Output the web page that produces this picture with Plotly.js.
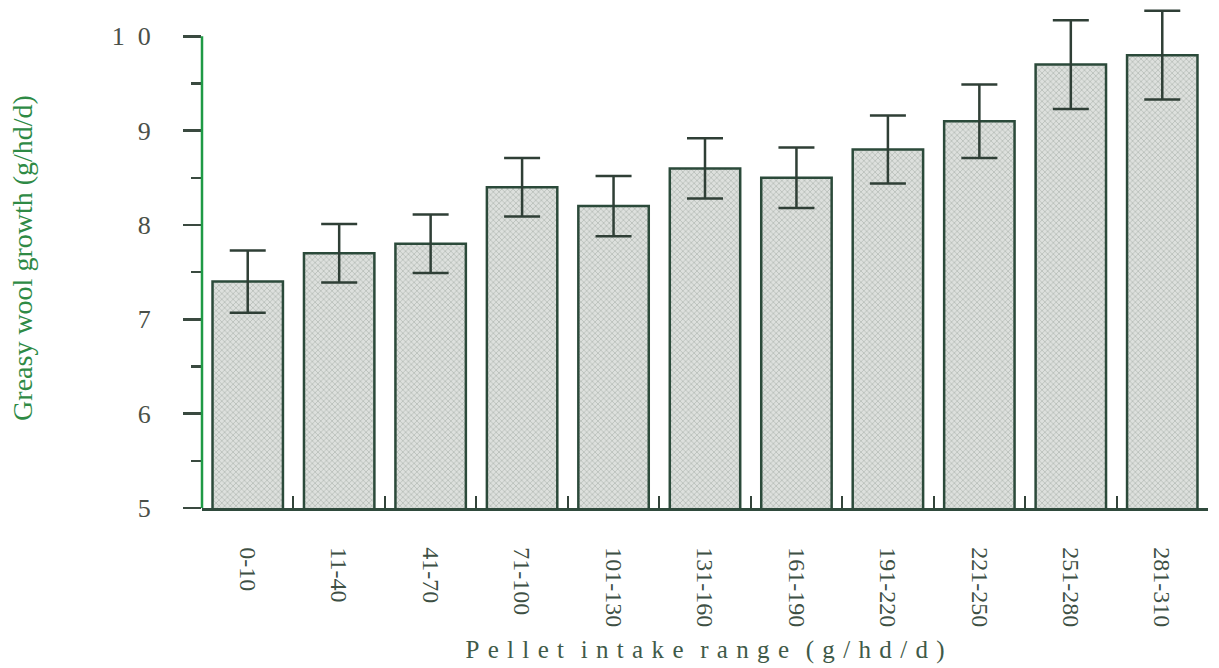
<!DOCTYPE html>
<html><head><meta charset="utf-8">
<script src="https://cdn.plot.ly/plotly-3.0.1.min.js"></script>
<style>body{margin:0;background:#fff}#c{width:1219px;height:668px}</style>
</head><body><div id="c"></div>
<script>
var categories = ['0-10','11-40','41-70','71-100','101-130','131-160','161-190','191-220','221-250','251-280','281-310'];
var woolGrowth = [7.4, 7.7, 7.8, 8.4, 8.2, 8.6, 8.5, 8.8, 9.1, 9.7, 9.8];
var errorSE = [0.33, 0.31, 0.31, 0.31, 0.32, 0.32, 0.32, 0.36, 0.39, 0.47, 0.47];
var yTickVals = [5, 6, 7, 8, 9, 10];
var yTickText = ['5', '6', '7', '8', '9', '1\u20020'];
var xTitle = 'Pellet intake range (g/hd/d)';

function spaced(s) {
  var g = '\u00a0\u200a';
  return s.split(' ').map(function (w) { return w.split('').join(g); }).join(g + g);
}

var serif = '"Liberation Serif", "DejaVu Serif", serif';
var trace = {
  type: 'bar', x: categories, y: woolGrowth, base: 0,
  width: 0.77,
  marker: {
    color: '#d9dcd9',
    line: {color: '#2b4a3a', width: 2.5},
    pattern: {shape: 'x', size: 4, solidity: 0.25, fgcolor: '#a3aaa4', bgcolor: '#dde0dd'}
  },
  error_y: {type: 'data', array: errorSE, visible: true, color: '#2f3f36', thickness: 2.5, width: 18}
};
var layout = {
  width: 1219, height: 668,
  margin: {l: 202, r: 11, t: 8, b: 160},
  paper_bgcolor: '#fff', plot_bgcolor: '#fff',
  showlegend: false,
  shapes: [{
    type: 'line', xref: 'paper', yref: 'y', layer: 'above',
    x0: 0, x1: 0, y0: yTickVals[0], y1: yTickVals[yTickVals.length - 1],
    line: {color: '#1f9a45', width: 2.5}
  }],
  xaxis: {
    type: 'category', range: [-0.5, 10.5],
    showline: true, linecolor: '#2f4a3c', linewidth: 2.5,
    ticks: 'inside', tickson: 'boundaries', ticklen: 12, tickwidth: 2, tickcolor: '#33443a',
    tickangle: 90, ticklabelstandoff: 32,
    tickfont: {family: serif, size: 24, color: '#3d4f44'},
    showgrid: false, zeroline: false,
    title: {text: spaced(xTitle), font: {family: serif, size: 25, color: '#3f5a48'}, standoff: 14}
  },
  yaxis: {
    range: [5, 10.3], tickvals: yTickVals, ticktext: yTickText,
    showline: false,
    ticks: 'outside', ticklen: 18, tickwidth: 2.5, tickcolor: '#3a4a40',
    minor: {dtick: 0.5, ticks: 'outside', ticklen: 10, tickwidth: 2.5, tickcolor: '#3a4a40', showgrid: false},
    ticklabelstandoff: 27,
    tickfont: {family: serif, size: 26, color: '#4a5049'},
    showgrid: false, zeroline: false,
    title: {text: 'Greasy wool growth (g/hd/d)', font: {family: serif, size: 28, color: '#2e8a45'}, standoff: 70}
  }
};
Plotly.newPlot('c', [trace], layout, {displayModeBar: false, staticPlot: true});
</script></body></html>
